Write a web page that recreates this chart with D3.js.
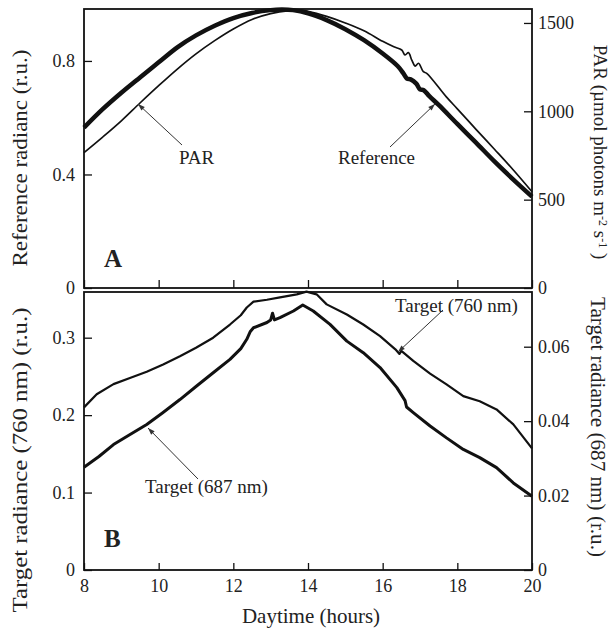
<!DOCTYPE html>
<html>
<head>
<meta charset="utf-8">
<script src="https://cdn.jsdelivr.net/npm/d3@7"></script>
<style>
  body { margin: 0; background: #fff; }
  text { font-family: "Liberation Serif", "Times New Roman", serif; fill: #222; }
</style>
</head>
<body>
<div class="chart"></div>
<script>
// ---- data ----
// panel A, thick line (left axis, r.u.)
var refHours  = [8, 8.5, 9, 9.5, 10, 10.5, 11, 11.5, 12, 12.5, 13, 13.3, 13.6, 14, 14.5, 15, 15.5, 16, 16.4, 16.55, 16.65, 16.75, 16.9, 17, 17.1, 17.25, 17.5, 18, 18.5, 19, 19.5, 20];
var refValues = [0.565, 0.63, 0.688, 0.742, 0.795, 0.848, 0.89, 0.924, 0.951, 0.969, 0.979, 0.981, 0.979, 0.968, 0.944, 0.912, 0.873, 0.826, 0.782, 0.757, 0.738, 0.735, 0.72, 0.70, 0.697, 0.676, 0.645, 0.578, 0.512, 0.445, 0.382, 0.322];
// panel A, thin line (right axis, umol photons m-2 s-1)
var parHours  = [8, 8.5, 9, 9.5, 10, 10.5, 11, 11.5, 12, 12.5, 13, 13.5, 13.8, 14, 14.5, 15, 15.5, 16, 16.3, 16.51, 16.6, 16.69, 16.78, 16.87, 16.96, 17.09, 17.18, 17.7, 18, 18.5, 19, 19.5, 20];
var parValues = [766, 854, 946, 1047, 1145, 1239, 1325, 1400, 1466, 1520, 1553, 1570, 1573, 1566, 1537, 1500, 1456, 1396, 1365, 1347, 1319, 1332, 1290, 1256, 1272, 1224, 1215, 1083, 1014, 898, 784, 668, 545];
// panel B, 760 nm (left axis)
var t760Hours  = [8, 8.34, 8.79, 9.23, 9.68, 10.12, 10.57, 11.0, 11.46, 11.91, 12.2, 12.36, 12.54, 12.9, 13.25, 13.7, 13.96, 14.23, 14.5, 15.04, 15.48, 15.93, 16.34, 16.45, 16.5, 16.82, 17.27, 17.71, 18.16, 18.6, 19.05, 19.5, 20];
var t760Values = [0.21, 0.227, 0.240, 0.248, 0.256, 0.2655, 0.276, 0.287, 0.300, 0.317, 0.329, 0.339, 0.3465, 0.349, 0.352, 0.356, 0.3595, 0.356, 0.343, 0.330, 0.317, 0.302, 0.285, 0.279, 0.283, 0.270, 0.2535, 0.2397, 0.2246, 0.218, 0.2074, 0.188, 0.157];
// panel B, 687 nm (right axis)
var t687Hours  = [8, 8.4, 8.79, 9.2, 9.68, 10.1, 10.57, 11.0, 11.46, 11.91, 12.2, 12.36, 12.45, 12.54, 12.9, 13.0, 13.05, 13.1, 13.25, 13.61, 13.86, 14.14, 14.59, 15.04, 15.48, 15.93, 16.38, 16.6, 16.64, 16.82, 17.27, 17.71, 18.16, 18.6, 19.05, 19.5, 20];
var t687Values = [0.0276, 0.0305, 0.0337, 0.0362, 0.0391, 0.0422, 0.0458, 0.0493, 0.053, 0.0566, 0.0595, 0.062, 0.064, 0.0651, 0.0665, 0.0672, 0.069, 0.0672, 0.0678, 0.0696, 0.0712, 0.0696, 0.066, 0.0615, 0.0584, 0.0544, 0.049, 0.0455, 0.0438, 0.0423, 0.0387, 0.0355, 0.0324, 0.0302, 0.0275, 0.0234, 0.0198];

var hourTicks = [8, 10, 12, 14, 16, 18, 20];
var refTicks = [0, 0.4, 0.8];
var parTicks = [0, 500, 1000, 1500];
var t760Ticks = [0, 0.1, 0.2, 0.3];
var t687Ticks = [0, 0.02, 0.04, 0.06];

function zip(a, b) { return a.map(function (d, i) { return [d, b[i]]; }); }

var svg = d3.select(".chart").append("svg")
    .attr("width", 613).attr("height", 630);

var defs = svg.append("defs");
defs.append("marker").attr("id", "arr")
    .attr("viewBox", "0 0 10 10").attr("refX", 10).attr("refY", 5)
    .attr("markerWidth", 9).attr("markerHeight", 7).attr("orient", "auto")
    .attr("markerUnits", "userSpaceOnUse")
    .append("path").attr("d", "M0,1.5L10,5L0,8.5Z").attr("fill", "#333");

var x = d3.scaleLinear().domain([8, 20]).range([84, 532]);
var yRef = d3.scaleLinear().domain([0, 0.983]).range([288, 9]);
var yPar = d3.scaleLinear().domain([0, 1579]).range([288, 9]);
var y760 = d3.scaleLinear().domain([0, 0.359]).range([570, 292]);
var y687 = d3.scaleLinear().domain([0, 0.0747]).range([570, 292]);

var fmt = d3.format("~g");

function yAxes(left, right, lt, rt) {
    var g1 = svg.append("g").attr("transform", "translate(84,0)")
        .call(d3.axisLeft(left).tickValues(lt).tickFormat(fmt).tickSizeInner(-8).tickSizeOuter(0).tickPadding(9));
    var g2 = svg.append("g").attr("transform", "translate(532,0)")
        .call(d3.axisRight(right).tickValues(rt).tickFormat(fmt).tickSizeInner(-8).tickSizeOuter(0).tickPadding(6));
    [g1, g2].forEach(function (g) {
        g.select(".domain").remove();
        g.selectAll("line").attr("stroke", "#111").attr("stroke-width", 1.3);
        g.selectAll("text").attr("font-size", 18).attr("fill", "#222")
            .style("font-family", "Liberation Serif");
    });
}

yAxes(yRef, yPar, refTicks, parTicks);
yAxes(y760, y687, t760Ticks, t687Ticks);

// x ticks on both panels, labels only below B
var xa = svg.append("g").attr("transform", "translate(0,570)")
    .call(d3.axisBottom(x).tickValues(hourTicks).tickSizeInner(-7).tickSizeOuter(0).tickPadding(9));
var xb = svg.append("g").attr("transform", "translate(0,288)")
    .call(d3.axisBottom(x).tickValues(hourTicks).tickSizeInner(-8).tickSizeOuter(0).tickFormat(""));
[xa, xb].forEach(function (g) {
    g.select(".domain").remove();
    g.selectAll("line").attr("stroke", "#111").attr("stroke-width", 1.3);
    g.selectAll("text").attr("font-size", 18).attr("fill", "#222")
        .style("font-family", "Liberation Serif");
});

// frames
svg.append("rect").attr("x", 84).attr("y", 9).attr("width", 448).attr("height", 279)
    .attr("fill", "none").attr("stroke", "#111").attr("stroke-width", 1.8);
svg.append("rect").attr("x", 84).attr("y", 292).attr("width", 448).attr("height", 278)
    .attr("fill", "none").attr("stroke", "#111").attr("stroke-width", 1.8);

// curves
var lineRef = d3.line().x(function (d) { return x(d[0]); }).y(function (d) { return yRef(d[1]); }).curve(d3.curveCatmullRom);
var linePar = d3.line().x(function (d) { return x(d[0]); }).y(function (d) { return yPar(d[1]); }).curve(d3.curveCatmullRom);
var line760 = d3.line().x(function (d) { return x(d[0]); }).y(function (d) { return y760(d[1]); });
var line687 = d3.line().x(function (d) { return x(d[0]); }).y(function (d) { return y687(d[1]); });

svg.append("path").attr("d", linePar(zip(parHours, parValues)))
    .attr("fill", "none").attr("stroke", "#111").attr("stroke-width", 1.7);
svg.append("path").attr("d", lineRef(zip(refHours, refValues)))
    .attr("fill", "none").attr("stroke", "#111").attr("stroke-width", 4.5);
svg.append("path").attr("d", line760(zip(t760Hours, t760Values)))
    .attr("fill", "none").attr("stroke", "#111").attr("stroke-width", 2.2).attr("stroke-linejoin", "round");
svg.append("path").attr("d", line687(zip(t687Hours, t687Values)))
    .attr("fill", "none").attr("stroke", "#111").attr("stroke-width", 3).attr("stroke-linejoin", "round");

// annotations with arrows
function note(label, tx, ty, x1, y1, x2, y2) {
    svg.append("line").attr("x1", x1).attr("y1", y1).attr("x2", x2).attr("y2", y2)
        .attr("stroke", "#333").attr("stroke-width", 1).attr("marker-end", "url(#arr)");
    svg.append("text").attr("x", tx).attr("y", ty).attr("font-size", 19).text(label);
}
note("PAR", 179, 164, 182, 145, 138, 104);
note("Reference", 338, 164, 390, 147, 435, 104);
note("Target (760 nm)", 395, 312, 443, 310, 398, 352);
note("Target (687 nm)", 145, 493, 198, 479, 148, 428);

svg.append("text").attr("x", 104).attr("y", 267).attr("font-size", 25).attr("font-weight", "bold").text("A");
svg.append("text").attr("x", 104).attr("y", 547).attr("font-size", 25).attr("font-weight", "bold").text("B");

// axis titles
svg.append("text").attr("x", 311).attr("y", 623).attr("text-anchor", "middle")
    .attr("font-size", 21).text("Daytime (hours)");

svg.append("text").attr("transform", "translate(27,158) rotate(-90)").attr("text-anchor", "middle")
    .attr("font-size", 21).attr("textLength", 217).attr("lengthAdjust", "spacingAndGlyphs")
    .text("Reference radianc (r.u.)");
svg.append("text").attr("transform", "translate(27,460) rotate(-90)").attr("text-anchor", "middle")
    .attr("font-size", 21).attr("textLength", 305).attr("lengthAdjust", "spacingAndGlyphs")
    .text("Target radiance (760 nm) (r.u.)");

var parTitle = svg.append("text").attr("transform", "translate(594,152) rotate(90)")
    .attr("text-anchor", "middle").attr("font-size", 19);
parTitle.append("tspan").text("PAR (\u00b5mol photons m");
parTitle.append("tspan").attr("font-size", 12).attr("dy", -5).text("-2");
parTitle.append("tspan").attr("dy", 5).text(" s");
parTitle.append("tspan").attr("font-size", 12).attr("dy", -5).text("-1");
parTitle.append("tspan").attr("dy", 5).text(" )");

svg.append("text").attr("transform", "translate(591,427) rotate(90)").attr("text-anchor", "middle")
    .attr("font-size", 20).attr("textLength", 260).attr("lengthAdjust", "spacingAndGlyphs")
    .text("Target radiance (687 nm) (r.u.)");
</script>
</body>
</html>
